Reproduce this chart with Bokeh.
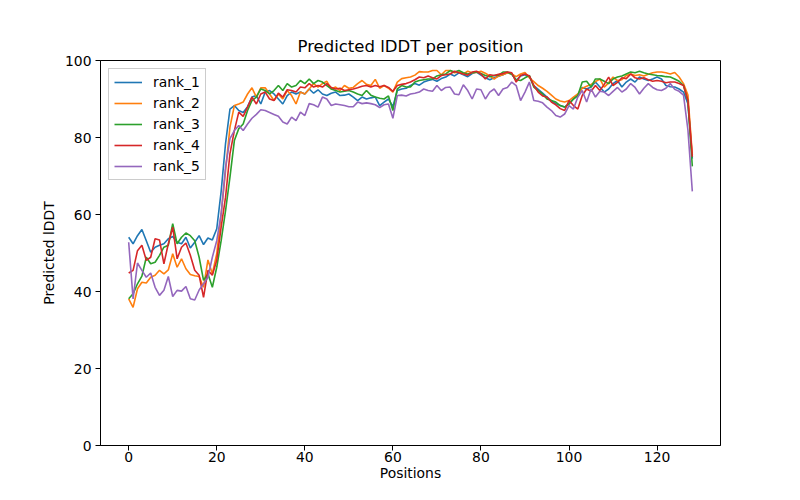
from bokeh.plotting import figure
from bokeh.models import Range1d, FixedTicker, Legend, LegendItem
from bokeh.embed import file_html
from bokeh.resources import INLINE

positions = list(range(129))

rank_1 = [54.1, 52.4, 54.5, 56.1, 53.2, 50.2, 51.5, 52.0, 52.4, 53.7, 54.3, 52.8, 52.4, 54.1, 51.3, 52.8, 54.5, 52.2, 53.9, 53.4,
          56.3, 66.0, 78.5, 87.4, 88.3, 87.0,
          86.5, 88.0, 90.5, 90.9, 88.7, 91.8, 92.2, 91.3, 90.0, 88.7, 90.9, 91.8, 91.3, 91.8, 91.3, 92.6, 91.5, 92.4,
          91.3, 90.9, 91.5, 91.8, 90.9, 91.0, 91.3, 90.5, 89.6, 90.5, 90.0, 90.3, 90.5, 88.3, 89.2, 90.0, 88.0,
          92.2, 92.6, 92.8, 93.5, 94.0, 93.6, 94.4, 94.8, 95.1, 94.6, 95.3, 95.7,
          96.5, 96.0, 96.8, 96.3, 95.8, 96.6, 97.0, 96.2, 95.5, 95.0, 95.5, 95.9, 96.3, 96.8, 96.5, 94.8, 96.0, 96.3,
          95.8, 93.5, 92.5, 91.5, 90.5, 89.5, 88.8, 88.3, 87.9, 88.8, 90.0, 91.0, 93.0, 92.6,
          93.1, 94.4, 93.1, 91.8, 92.6, 94.0, 94.8, 93.1, 94.4, 95.2, 94.4, 95.7, 95.2, 94.8, 95.2, 95.7, 95.2, 93.5,
          93.2, 93.1, 92.6, 91.8, 88.8, 74.5]

rank_2 = [38.1, 35.9, 40.7, 42.4, 42.2, 43.7, 44.2, 45.5, 44.6, 45.6, 49.8, 46.3, 48.5, 45.9, 44.4, 44.1, 43.9, 41.1, 48.2, 44.6,
          49.8, 60.0, 71.4, 82.7, 88.3, 88.7,
          89.2, 91.3, 92.9, 90.5, 92.9, 92.9, 91.3, 89.6, 91.3, 90.0, 92.2, 90.9, 88.7, 91.8, 91.3, 92.6, 94.0, 93.1,
          94.0, 94.6, 92.6, 93.1, 92.2, 93.5, 92.8, 93.0, 94.0, 94.8, 93.8, 93.5, 95.1, 92.8, 93.5, 92.8, 91.8,
          94.4, 95.3, 95.5, 95.7, 96.2, 97.1, 97.0, 97.0, 97.4, 97.4, 96.3, 97.4,
          97.4, 96.8, 97.0, 96.5, 97.2, 96.8, 96.9, 97.2, 96.7, 96.0, 95.2, 96.0, 96.3, 96.8, 96.5, 95.8, 96.5, 96.9,
          95.5, 94.5, 93.5, 92.8, 92.0, 91.0, 90.0, 89.5, 89.2, 89.6, 90.5, 91.3, 92.8, 93.3,
          93.8, 94.5, 95.2, 93.1, 94.2, 95.7, 94.8, 95.0, 96.1, 96.5, 96.1, 96.3, 96.0, 96.4, 96.8, 97.0, 97.0, 96.8,
          96.5, 96.9, 95.7, 94.0, 91.0, 75.5]

rank_3 = [38.1, 39.4, 42.0, 44.0, 48.9, 47.2, 47.6, 49.4, 51.5, 52.0, 57.6, 52.4, 54.1, 55.2, 54.5, 53.2, 48.9, 42.9, 44.6, 41.1,
          46.3, 53.2, 61.0, 69.7, 79.2, 82.3,
          83.5, 87.0, 89.6, 90.5, 92.6, 92.2, 91.3, 92.2, 93.5, 92.2, 94.0, 93.1, 93.5, 94.8, 94.0, 95.2, 94.0, 94.8,
          94.4, 93.5, 92.6, 92.2, 91.8, 92.0, 92.2, 91.8, 91.3, 90.9, 92.2, 91.0, 90.5, 90.2, 90.0, 90.8, 87.0,
          92.6, 93.5, 93.1, 93.1, 94.4, 94.8, 95.0, 95.2, 95.2, 96.0, 96.3, 96.5,
          97.4, 97.0, 97.4, 96.8, 96.5, 96.8, 97.0, 96.6, 96.1, 95.8, 96.1, 96.2, 97.0, 97.0, 96.4, 95.0, 94.8, 95.5,
          96.1, 93.1, 92.2, 91.3, 90.0, 89.6, 89.2, 88.3, 87.9, 88.7, 90.0, 90.9, 94.4, 94.6,
          93.1, 95.2, 95.2, 94.6, 94.0, 95.2, 95.7, 96.0, 96.5, 97.0, 96.8, 97.2, 96.8, 96.5, 96.3, 96.1, 96.0, 95.8,
          95.7, 95.2, 94.6, 93.5, 89.5, 72.5]

rank_4 = [44.8, 45.5, 50.6, 52.0, 48.1, 48.9, 53.7, 53.4, 47.2, 52.4, 56.7, 48.5, 51.5, 52.6, 49.4, 45.5, 44.2, 38.5, 45.5, 44.2,
          48.1, 56.7, 64.5, 75.8, 81.8, 86.6,
          85.5, 87.9, 90.5, 88.7, 91.3, 91.8, 90.0, 89.6, 91.5, 90.5, 92.4, 92.2, 91.8, 93.1, 92.9, 94.0, 93.1, 93.5,
          93.1, 94.0, 93.0, 92.6, 92.8, 92.2, 92.4, 92.6, 92.9, 93.3, 93.5, 93.1, 93.5, 93.2, 93.5, 93.0, 92.0,
          93.5, 93.8, 94.0, 94.4, 95.0, 95.7, 95.5, 96.0, 95.5, 95.2, 96.1, 96.3,
          96.5, 97.2, 96.8, 96.5, 96.2, 97.0, 97.2, 96.5, 95.2, 96.3, 96.1, 96.4, 96.6, 97.0, 96.8, 94.4, 96.1, 96.5,
          96.0, 93.5, 91.8, 90.8, 90.5, 89.2, 88.5, 87.5, 87.0, 89.6, 88.3, 87.4, 90.9, 92.6,
          92.0, 93.5, 92.2, 93.8, 95.7, 93.5, 94.3, 95.5, 95.3, 96.5, 95.5, 95.2, 95.5, 95.0, 94.6, 94.8, 94.6, 94.2,
          94.4, 94.4, 94.0, 93.5, 89.6, 75.0]

rank_5 = [52.8, 38.1, 47.4, 45.5, 43.7, 44.8, 41.1, 39.0, 40.3, 43.9, 38.7, 40.3, 40.1, 41.3, 38.1, 37.8, 40.4, 42.0, 43.7, 48.9,
          53.2, 60.2, 72.3, 79.7, 81.8,
          83.1, 81.8, 83.5, 85.0, 86.0, 87.2, 87.0, 86.5, 86.0, 85.5, 84.0, 83.5, 85.3, 84.4, 86.6, 85.7, 88.8, 88.5,
          87.9, 90.5, 90.0,
          88.3, 88.7, 88.5, 88.3, 88.0, 88.0, 89.2, 88.8, 89.0, 88.8, 88.5, 87.8, 88.5, 88.7, 85.0,
          90.9, 91.0, 90.8, 91.3, 91.5, 91.8, 92.6, 92.2, 92.0, 93.5, 92.2, 93.0,
          93.1, 91.3, 91.1, 93.7, 92.2, 90.0, 92.6, 92.4, 90.0, 91.8, 92.6, 90.9, 92.6, 93.0, 94.4, 93.5, 89.6, 91.8,
          94.4, 89.6, 89.4, 89.0, 87.9, 87.0, 85.7, 85.3, 86.1, 88.3, 87.4, 90.5, 92.2, 89.2,
          92.6, 90.5, 92.0, 91.8, 90.9, 92.0, 93.0, 91.8, 92.6, 94.0, 93.0, 91.3, 92.8, 94.0, 93.0, 92.4, 92.2, 92.8,
          94.0, 92.5, 92.0, 91.0, 82.0, 66.0]

series_names = ["rank_1", "rank_2", "rank_3", "rank_4", "rank_5"]
series_values = [rank_1, rank_2, rank_3, rank_4, rank_5]
colors = ["#1f77b4", "#ff7f0e", "#2ca02c", "#d62728", "#9467bd"]
x_ticks = [0, 20, 40, 60, 80, 100, 120]
y_ticks = [0, 20, 40, 60, 80, 100]

FONT = "DejaVu Sans"

p = figure(width=784, height=484, output_backend="svg", toolbar_location=None,
           x_range=Range1d(-6.4, 134.4), y_range=Range1d(0, 100),
           min_border_left=100, min_border_right=64, min_border_top=60, min_border_bottom=39,
           title="Predicted lDDT per position")

p.title.align = "center"
p.title.text_font = FONT
p.title.text_font_size = "16.5px"
p.title.text_font_style = "normal"
p.title.text_color = "black"
p.title.offset = 0

p.grid.visible = False
p.outline_line_color = "black"
p.outline_line_width = 1
p.background_fill_color = "white"
p.border_fill_color = "white"

for ax in (p.xaxis[0], p.yaxis[0]):
    ax.major_tick_in = 0
    ax.major_tick_out = 5
    ax.minor_tick_out = 0
    ax.minor_tick_in = 0
    ax.axis_line_color = "black"
    ax.major_tick_line_color = "black"
    ax.major_label_text_font = FONT
    ax.major_label_text_font_size = "13.9px"
    ax.major_label_text_color = "black"
    ax.axis_label_text_font = FONT
    ax.axis_label_text_font_size = "13.9px"
    ax.axis_label_text_font_style = "normal"
    ax.axis_label_text_color = "black"

p.xaxis[0].ticker = FixedTicker(ticks=x_ticks)
p.yaxis[0].ticker = FixedTicker(ticks=y_ticks)
p.xaxis[0].axis_label = "Positions"
p.yaxis[0].axis_label = "Predicted lDDT"
p.xaxis[0].axis_label_standoff = 0
p.yaxis[0].axis_label_standoff = 5
p.xaxis[0].major_label_standoff = 1
p.yaxis[0].major_label_standoff = 4

items = []
for name, vals, c in zip(series_names, series_values, colors):
    r = p.line(positions, vals, line_color=c, line_width=1.6)
    items.append(LegendItem(label=name, renderers=[r]))

legend = Legend(items=items, location="top_left")
legend.label_text_font = FONT
legend.label_text_font_size = "13.9px"
legend.label_text_color = "black"
legend.border_line_color = "#cccccc"
legend.border_line_alpha = 1.0
legend.background_fill_alpha = 0.8
legend.glyph_width = 28
legend.glyph_height = 16
legend.label_standoff = 11
legend.spacing = 5
legend.padding = 5
legend.margin = 8
legend.label_height = 16
p.add_layout(legend)

open("out.html", "w").write(file_html(p, INLINE))
